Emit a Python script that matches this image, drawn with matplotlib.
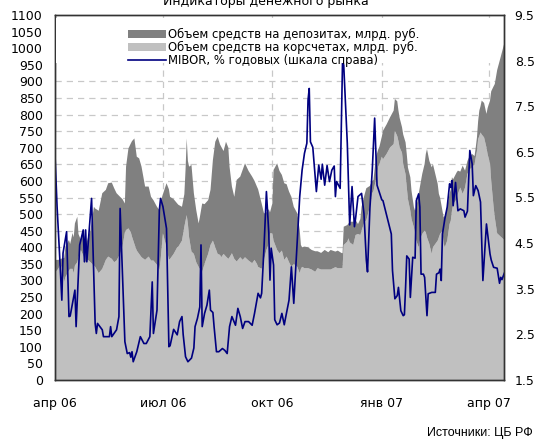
import numpy as np
import matplotlib
matplotlib.use("Agg")
import matplotlib.pyplot as plt
from matplotlib.patches import Patch, Rectangle
from matplotlib.lines import Line2D

plt.rcParams['font.family'] = ['DejaVu Sans']

START = np.datetime64('2006-04-01')

# Balances, bn rub; day numbers counted from 1 April 2006
area_days = [0, 3, 5, 8, 9, 12, 13, 15, 16, 17,
             19, 20, 22, 24, 26, 28, 30, 33, 34, 37,
             40, 43, 45, 48, 50, 52, 55, 57, 59, 60,
             62, 64, 65, 67, 69, 71, 73, 76, 79, 81,
             83, 86, 88, 89, 91, 94, 96, 97, 100, 103,
             104, 107, 109, 110, 111, 112, 113, 115, 117, 119,
             121, 122, 124, 126, 129, 131, 133, 135, 137, 139,
             140, 142, 144, 146, 147, 149, 151, 153, 156, 158,
             160, 163, 166, 168, 170, 171, 174, 176, 178, 180,
             181, 183, 184, 187, 189, 191, 193, 195, 197, 199,
             201, 204, 206, 207, 208, 210, 213, 216, 219, 221,
             224, 227, 230, 232, 236, 238, 241, 242, 243, 246,
             247, 248, 251, 253, 255, 257, 258, 260, 262, 265,
             267, 268, 270, 271, 272, 273, 275, 276, 279, 282,
             285, 286, 288, 289, 290, 292, 293, 295, 296, 297,
             299, 300, 302, 303, 304, 306, 307, 309, 311, 312,
             313, 315, 317, 318, 320, 322, 323, 324, 326, 327,
             328, 330, 332, 333, 334, 335, 338, 339, 341, 343,
             345, 347, 349, 351, 353, 354, 355, 356, 357, 358,
             359, 361, 363, 364, 366, 367, 369, 370, 372, 375,
             378]

# correspondent accounts
korschet = [322, 335, 350, 296, 310, 330, 335, 335, 322, 345,
            355, 370, 392, 375, 355, 362, 355, 345, 341, 322,
            335, 362, 372, 365, 355, 360, 380, 402, 445, 452,
            457, 445, 432, 410, 390, 380, 370, 362, 372, 360,
            360, 347, 332, 360, 442, 400, 362, 365, 380, 400,
            402, 420, 462, 480, 497, 470, 430, 387, 380, 355,
            341, 335, 326, 350, 380, 407, 420, 400, 380, 377,
            370, 380, 372, 365, 370, 382, 365, 357, 370, 362,
            370, 360, 352, 362, 350, 341, 335, 362, 392, 410,
            442, 442, 420, 392, 382, 390, 362, 372, 355, 341,
            350, 341, 322, 335, 341, 337, 337, 333, 326, 337,
            333, 333, 333, 333, 340, 337, 337, 337, 407, 417,
            427, 415, 407, 437, 440, 437, 450, 472, 482, 522,
            563, 570, 603, 610, 643, 650, 673, 665, 681, 701,
            711, 751, 735, 720, 701, 685, 651, 620, 581, 545,
            510, 485, 460, 440, 420, 400, 420, 440, 450, 445,
            430, 410, 380, 400, 410, 420, 430, 440, 450, 410,
            400, 420, 470, 480, 510, 530, 545, 561, 580, 561,
            580, 621, 635, 641, 650, 671, 690, 726, 735, 746,
            740, 731, 701, 680, 653, 600, 522, 490, 442, 432,
            422]

# deposits with the central bank
deposits = [40, 27, 15, 72, 92, 92, 75, 108, 108, 127,
            137, 70, 30, 77, 47, 68, 95, 177, 176, 188,
            228, 211, 221, 230, 223, 203, 172, 143, 87, 191,
            241, 268, 288, 318, 283, 288, 273, 221, 211, 192,
            182, 175, 180, 177, 118, 193, 213, 187, 165, 132,
            126, 102, 98, 153, 231, 190, 213, 261, 183, 157,
            131, 155, 206, 180, 162, 166, 243, 318, 353, 333,
            333, 310, 346, 335, 273, 201, 187, 246, 243, 271,
            283, 270, 261, 238, 233, 234, 197, 140, 113, 105,
            63, 90, 213, 261, 248, 228, 231, 218, 213, 211,
            172, 161, 130, 72, 59, 65, 63, 59, 62, 51,
            50, 59, 52, 59, 47, 53, 46, 45, 55, 50,
            45, 62, 70, 45, 30, 48, 72, 80, 96, 63,
            37, 33, 67, 73, 52, 53, 60, 86, 89, 91,
            101, 96, 105, 92, 89, 77, 89, 96, 100, 95,
            101, 85, 61, 70, 101, 161, 161, 181, 201, 236,
            266, 250, 261, 251, 211, 171, 131, 110, 60, 80,
            95, 100, 91, 95, 101, 75, 81, 70, 48, 85,
            51, 39, 41, 40, 25, 30, 41, 54, 77, 79,
            102, 104, 101, 140, 189, 270, 363, 402, 492, 542,
            593]

# MIBOR, % p.a.
mibor_days = [0, 2, 4, 6, 7, 10, 12, 13, 17, 18,
              21, 24, 25, 26, 27, 31, 34, 35, 36, 40,
              41, 46, 47, 48, 52, 54, 55, 59, 61, 63,
              64, 65, 66, 69, 72, 75, 77, 80, 82, 83,
              86, 88, 89, 91, 94, 96, 97, 100, 103, 105,
              107, 108, 110, 112, 115, 117, 118, 120, 122, 123,
              124, 126, 128, 130, 131, 133, 134, 136, 138, 141,
              143, 145, 147, 149, 152, 154, 156, 158, 160, 163,
              166, 168, 171, 173, 174, 176, 178, 180, 181, 182,
              184, 185, 187, 189, 191, 193, 194, 197, 199, 201,
              203, 206, 208, 210, 212, 213, 214, 215, 217, 220,
              222, 224, 225, 227, 229, 231, 233, 235, 236, 237,
              240, 242, 243, 246, 248, 250, 252, 253, 255, 258,
              260, 262, 263, 265, 267, 269, 271, 275, 276, 283,
              284, 286, 288, 289, 291, 293, 294, 295, 296, 298,
              299, 301, 303, 304, 306, 307, 308, 310, 311, 313,
              314, 317, 320, 321, 323, 324, 325, 326, 328, 330,
              332, 333, 334, 335, 337, 339, 341, 344, 345, 347,
              349, 351, 352, 354, 356, 358, 360, 363, 366, 367,
              369, 372, 374, 375, 376, 378]

mibor = [6.6, 5.3, 4.3, 3.25, 4.28, 4.75, 2.89, 2.9, 3.47, 2.67,
         4.46, 4.79, 4.09, 4.79, 4.09, 5.48, 2.74, 2.52, 2.74, 2.6,
         2.45, 2.45, 2.67, 2.45, 2.6, 2.89, 5.26, 2.34, 2.08, 2.1,
         2.0, 2.12, 1.9, 2.12, 2.45, 2.3, 2.3, 2.45, 3.65, 2.52,
         3.03, 5.23, 5.48, 5.3, 4.82, 2.23, 2.25, 2.61, 2.49, 2.78,
         2.89, 2.5, 2.01, 1.9, 1.98, 2.2, 2.67, 2.85, 3.1, 4.46,
         2.67, 2.96, 3.14, 3.47, 3.03, 2.98, 2.67, 2.12, 2.12, 2.19,
         2.15, 2.08, 2.67, 2.89, 2.7, 3.07, 2.89, 2.63, 2.78, 2.78,
         2.7, 2.96, 3.4, 3.3, 3.4, 4.42, 5.63, 4.72, 3.69, 4.39,
         4.02, 2.82, 2.71, 2.75, 2.96, 2.71, 2.85, 3.25, 3.98, 3.18,
         4.13, 5.52, 6.1, 6.47, 6.69, 7.64, 7.89, 6.72, 6.6, 5.63,
         6.21, 5.9, 6.23, 5.77, 6.2, 5.85, 6.1, 6.19, 5.52, 5.85,
         5.7, 8.5, 8.4, 6.69, 4.9, 5.74, 4.86, 5.05, 5.52, 5.59,
         5.15, 4.13, 3.87, 5.26, 6.1, 7.24, 5.77, 5.45, 5.43, 4.7,
         3.9, 3.28, 3.35, 3.53, 3.02, 2.91, 2.93, 3.53, 4.22, 4.15,
         3.31, 4.19, 4.17, 5.43, 5.58, 5.29, 3.82, 3.82, 3.75, 2.91,
         3.39, 3.42, 3.42, 3.82, 3.85, 3.93, 3.68, 4.7, 5.03, 5.29,
         5.8, 5.72, 5.87, 5.32, 5.83, 5.21, 5.25, 5.21, 5.07, 5.2,
         6.53, 6.23, 5.54, 5.76, 5.65, 5.4, 3.68, 4.92, 4.26, 4.13,
         3.97, 3.95, 3.62, 3.75, 3.7, 3.84]

x_tick_dates = ['2006-04-01', '2006-07-01', '2006-10-01', '2007-01-01', '2007-04-01']
x_tick_labels = ['апр 06', 'июл 06', 'окт 06', 'янв 07', 'апр 07']
left_ticks = list(range(0, 1101, 50))
right_ticks = [1.5, 2.5, 3.5, 4.5, 5.5, 6.5, 7.5, 8.5, 9.5]

legend_labels = ['Объем средств на депозитах, млрд. руб.',
                 'Объем средств на корсчетах, млрд. руб.',
                 'MIBOR, % годовых (шкала справа)']

DARK = '#808080'
LIGHT = '#c0c0c0'
NAVY = '#000080'
GRID = '#c8c8c8'
FRAME = '#333333'

area_dates = START + np.array(area_days).astype('timedelta64[D]')
mibor_dates = START + np.array(mibor_days).astype('timedelta64[D]')
tick_dates = np.array(x_tick_dates, dtype='datetime64[D]')

W, H = 536, 442
fig = plt.figure(figsize=(W / 100, H / 100), dpi=100)
ax = fig.add_axes([54.7 / W, 62 / H, 449.6 / W, 365 / H])

ax.stackplot(area_dates, korschet, deposits, colors=[LIGHT, DARK],
             linewidth=0, zorder=1)
ax.set_xlim(area_dates[0], area_dates[-1])
ax.set_ylim(0, 1100)

# dashed grid behind the areas
for lvl in left_ticks:
    if 0 < lvl <= 900:
        ax.axhline(lvl, color=GRID, lw=0.9, ls=(0, (5, 4)), zorder=0.5)
for d in tick_dates[1:]:
    ax.axvline(d, color=GRID, lw=0.9, ls=(0, (5, 4)), zorder=0.5)

ax.set_yticks(left_ticks)
ax.set_yticklabels([str(v) for v in left_ticks])
ax.set_xticks(tick_dates)
ax.set_xticklabels(x_tick_labels)
ax.tick_params(axis='y', length=0, pad=8.5, labelsize=9)
ax.tick_params(axis='x', length=0, pad=12, labelsize=9)

ax2 = ax.twinx()
ax2.plot(mibor_dates, mibor, color=NAVY, lw=1.2, zorder=2)
ax2.set_ylim(1.5, 9.5)
ax2.set_yticks(right_ticks)
ax2.set_yticklabels([f'{v:.1f}' for v in right_ticks])
ax2.tick_params(axis='y', length=0, pad=7.5, labelsize=9)

for a in (ax, ax2):
    for sp in a.spines.values():
        sp.set_color(FRAME)
        sp.set_linewidth(1.0)

# legend background
ax2.add_patch(Rectangle((0.003, 0.868), 0.972, 0.124, transform=ax2.transAxes,
                        facecolor='white', edgecolor='none', zorder=3))
handles = [Patch(facecolor=DARK, edgecolor='none'),
           Patch(facecolor=LIGHT, edgecolor='none'),
           Line2D([], [], color=NAVY, lw=1.2)]
leg = ax2.legend(handles, legend_labels, loc='upper left',
                 bbox_to_anchor=(0.162, 0.965), frameon=False,
                 fontsize=8.4, handlelength=3.3, handleheight=0.65,
                 handletextpad=0.14, labelspacing=0.0,
                 borderpad=0, borderaxespad=0)
leg.set_zorder(4)

fig.text(266 / W, 1 - 5 / H, 'Индикаторы денежного рынка',
         ha='center', va='baseline', fontsize=9)
fig.text(533 / W, 1 - 433 / H, 'Источники: ЦБ РФ',
         ha='right', va='center', fontsize=9, family='Liberation Sans')

fig.savefig('out.png', dpi=100)
